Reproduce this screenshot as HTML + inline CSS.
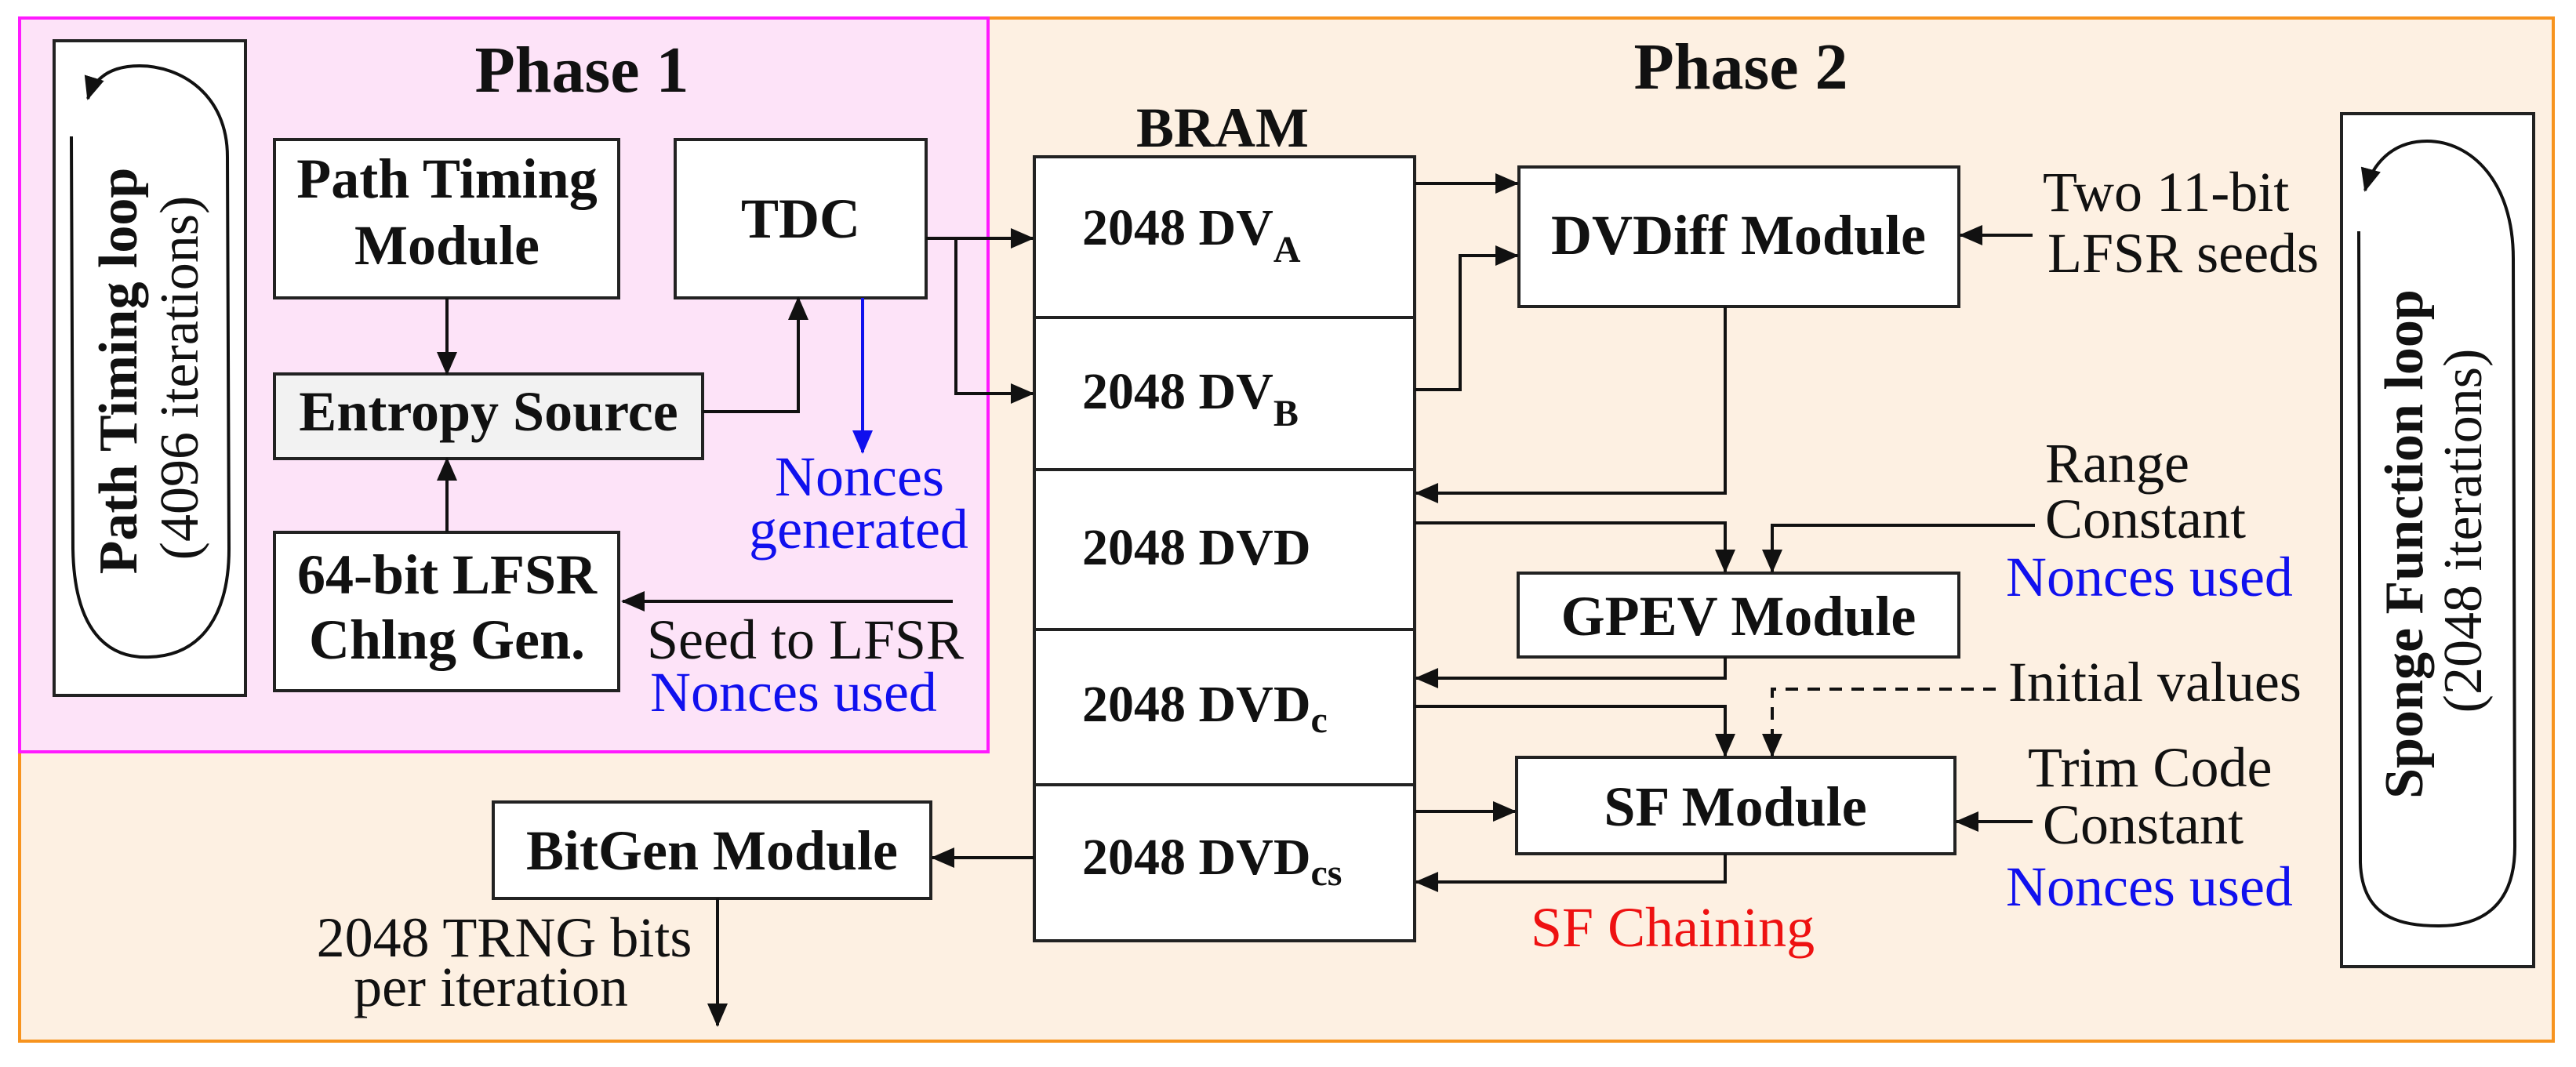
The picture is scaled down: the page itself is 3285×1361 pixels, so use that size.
<!DOCTYPE html>
<html><head><meta charset="utf-8"><style>
html,body{margin:0;padding:0;background:#fff;}
svg{display:block;}
svg text{font-family:"Liberation Serif","Times New Roman",Times,"DejaVu Serif",serif !important;fill:#111;}
.b{font-weight:bold;}
</style></head><body>
<svg width="3285" height="1361" viewBox="0 0 3285 1361" xmlns="http://www.w3.org/2000/svg" font-family="Liberation Serif, Times New Roman, Times, DejaVu Serif, serif" style="font-family:'Liberation Serif','Times New Roman',serif">
<defs>
<marker id="ar" markerUnits="userSpaceOnUse" markerWidth="30" markerHeight="26" refX="28" refY="13" orient="auto">
<path d="M0,0 L30,13 L0,26 Z" fill="#111"/></marker>
<marker id="ab" markerUnits="userSpaceOnUse" markerWidth="30" markerHeight="26" refX="28" refY="13" orient="auto">
<path d="M0,0 L30,13 L0,26 Z" fill="#1010ee"/></marker>
</defs>
<rect x="25" y="23" width="3231" height="1305" fill="#fdf0e2" stroke="#f7931e" stroke-width="4"/>
<rect x="25" y="23" width="1235" height="936" fill="#fde3f8" stroke="#ff1aff" stroke-width="4"/>
<g stroke="#222" stroke-width="4">
<rect x="69" y="52" width="244" height="835" fill="#fff"/>
<rect x="350" y="178" width="439" height="202" fill="#fff"/>
<rect x="861" y="178" width="320" height="202" fill="#fff"/>
<rect x="350" y="477" width="546" height="108" fill="#f2f2f2"/>
<rect x="350" y="679" width="439" height="202" fill="#fff"/>
<rect x="629" y="1023" width="558" height="123" fill="#fff"/>
<rect x="1319" y="200" width="485" height="1000" fill="#fff"/>
<line x1="1319" y1="405" x2="1804" y2="405"/>
<line x1="1319" y1="599" x2="1804" y2="599"/>
<line x1="1319" y1="803" x2="1804" y2="803"/>
<line x1="1319" y1="1001" x2="1804" y2="1001"/>
<rect x="1937" y="213" width="561" height="178" fill="#fff"/>
<rect x="1936" y="731" width="562" height="107" fill="#fff"/>
<rect x="1934" y="966" width="559" height="123" fill="#fff"/>
<rect x="2986" y="145" width="245" height="1088" fill="#fff"/>
</g>
<g fill="none" stroke="#111" stroke-width="4">
<path d="M 91 174 L 93 700 C 95 820 150 840 191 838 C 260 836 292 780 292 700 L 290 200 C 290 120 230 84 178 84 C 140 84 120 100 112 126" marker-end="url(#ar)"/>
<path d="M 3008 295 L 3010 1100 C 3012 1170 3060 1181 3110 1181 C 3180 1181 3207 1140 3207 1080 L 3205 330 C 3205 230 3150 180 3095 180 C 3050 180 3025 210 3016 243" marker-end="url(#ar)"/>
<line x1="570" y1="380" x2="570" y2="477" marker-end="url(#ar)"/>
<line x1="570" y1="679" x2="570" y2="585" marker-end="url(#ar)"/>
<polyline points="896,525 1018,525 1018,380" marker-end="url(#ar)"/>
<line x1="1215" y1="767" x2="794" y2="767" marker-end="url(#ar)"/>
<line x1="1181" y1="304" x2="1317" y2="304" marker-end="url(#ar)"/>
<polyline points="1219,304 1219,502 1317,502" marker-end="url(#ar)"/>
<line x1="1319" y1="1094" x2="1189" y2="1094" marker-end="url(#ar)"/>
<line x1="915" y1="1146" x2="915" y2="1308" marker-end="url(#ar)"/>
<line x1="1804" y1="234" x2="1935" y2="234" marker-end="url(#ar)"/>
<polyline points="1804,497 1862,497 1862,326 1935,326" marker-end="url(#ar)"/>
<polyline points="2200,391 2200,629 1806,629" marker-end="url(#ar)"/>
<polyline points="1804,667 2200,667 2200,729" marker-end="url(#ar)"/>
<polyline points="2595,670 2260,670 2260,729" marker-end="url(#ar)"/>
<polyline points="2200,838 2200,865 1806,865" marker-end="url(#ar)"/>
<polyline points="1804,901 2200,901 2200,964" marker-end="url(#ar)"/>
<polyline points="2545,879 2260,879 2260,964" stroke-dasharray="16,12" marker-end="url(#ar)"/>
<line x1="1804" y1="1035" x2="1932" y2="1035" marker-end="url(#ar)"/>
<polyline points="2200,1089 2200,1125 1806,1125" marker-end="url(#ar)"/>
<line x1="2592" y1="300" x2="2500" y2="300" marker-end="url(#ar)"/>
<line x1="2592" y1="1048" x2="2495" y2="1048" marker-end="url(#ar)"/>
<line x1="1100" y1="380" x2="1100" y2="577" stroke="#1010ee" marker-end="url(#ab)"/>
</g>
<g font-family="Liberation Serif, Times New Roman, serif">
<text class="b" x="742" y="117" font-size="84" text-anchor="middle">Phase 1</text>
<text class="b" x="2220" y="113" font-size="84" text-anchor="middle">Phase 2</text>
<text class="b" x="158" y="473" font-size="70" text-anchor="middle" dominant-baseline="middle" transform="rotate(-90 158 473)">Path Timing loop</text>
<text x="236" y="482" font-size="70" text-anchor="middle" dominant-baseline="middle" transform="rotate(-90 236 482)">(4096 iterations)</text>
<text class="b" x="3073" y="694" font-size="70" text-anchor="middle" dominant-baseline="middle" transform="rotate(-90 3073 694)">Sponge Function loop</text>
<text x="3148" y="677" font-size="70" text-anchor="middle" dominant-baseline="middle" transform="rotate(-90 3148 677)">(2048 iterations)</text>
<g font-size="72" text-anchor="middle">
<text class="b" x="570" y="252">Path Timing</text>
<text class="b" x="570" y="337">Module</text>
<text class="b" x="1021" y="303">TDC</text>
<text class="b" x="623" y="549">Entropy Source</text>
<text class="b" x="570" y="757">64-bit LFSR</text>
<text class="b" x="570" y="840">Chlng Gen.</text>
<text class="b" x="908" y="1109">BitGen Module</text>
<text class="b" x="1559" y="187">BRAM</text>
<text class="b" x="2217" y="324">DVDiff Module</text>
<text class="b" x="2217" y="810">GPEV Module</text>
<text class="b" x="2213" y="1053">SF Module</text>
</g>
<g font-size="66">
<text class="b" x="1380" y="312">2048 DV<tspan font-size="48" dy="22">A</tspan></text>
<text class="b" x="1380" y="521">2048 DV<tspan font-size="48" dy="22">B</tspan></text>
<text class="b" x="1380" y="720">2048 DVD</text>
<text class="b" x="1380" y="920">2048 DVD<tspan font-size="48" dy="14">c</tspan></text>
<text class="b" x="1380" y="1115">2048 DVD<tspan font-size="48" dy="14">cs</tspan></text>
</g>
<g font-size="72">
<text x="1096" y="632" text-anchor="middle" style="fill:#1010ee">Nonces</text>
<text x="1095" y="699" text-anchor="middle" style="fill:#1010ee">generated</text>
<text x="825" y="840">Seed to LFSR</text>
<text x="829" y="907" style="fill:#1010ee">Nonces used</text>
<text x="643" y="1220" text-anchor="middle">2048 TRNG bits</text>
<text x="626" y="1283" text-anchor="middle">per iteration</text>
<text x="1952" y="1207" style="fill:#ee1111">SF Chaining</text>
<text x="2605" y="269">Two 11-bit</text>
<text x="2611" y="347">LFSR seeds</text>
<text x="2608" y="615">Range</text>
<text x="2608" y="686">Constant</text>
<text x="2558" y="760" style="fill:#1010ee">Nonces used</text>
<text x="2561" y="894">Initial values</text>
<text x="2586" y="1003">Trim Code</text>
<text x="2605" y="1076">Constant</text>
<text x="2558" y="1155" style="fill:#1010ee">Nonces used</text>
</g>
</g>
</svg>
</body></html>
